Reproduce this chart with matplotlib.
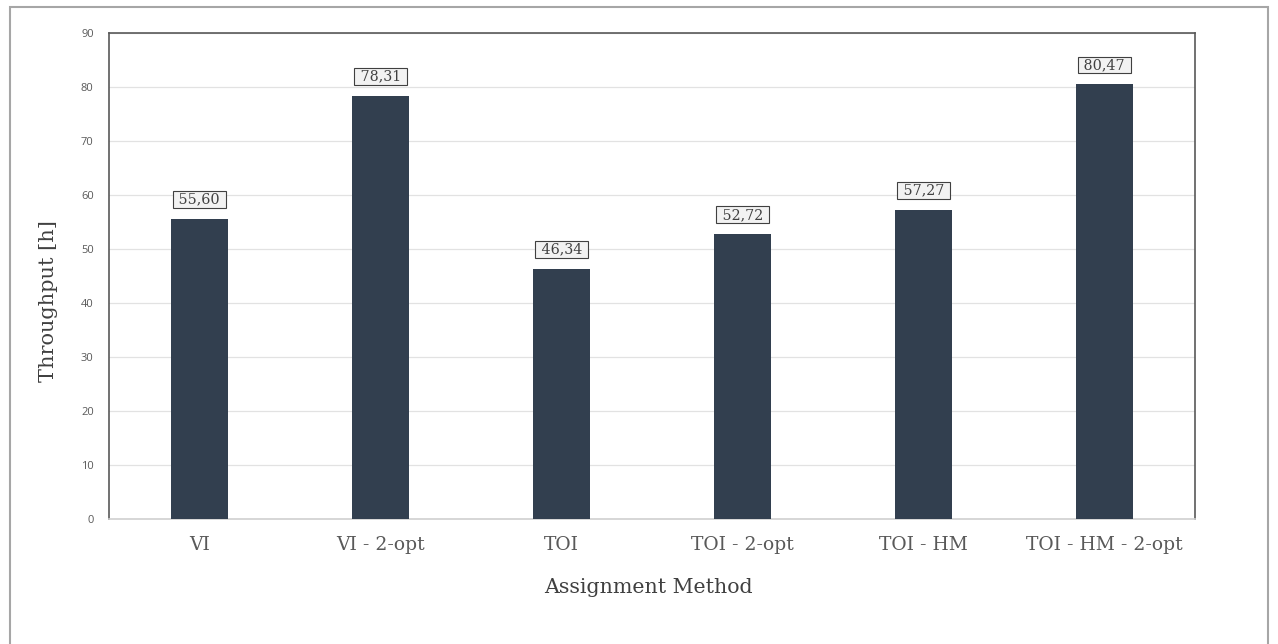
import matplotlib.pyplot as plt
from matplotlib.patches import Rectangle

methods = ["VI", "VI - 2-opt", "TOI", "TOI - 2-opt", "TOI - HM", "TOI - HM - 2-opt"]
throughput = [55.60, 78.31, 46.34, 52.72, 57.27, 80.47]
yticks = [0, 10, 20, 30, 40, 50, 60, 70, 80, 90]

bar_color = "#323f4f"
text_color = "#595959"
serif = ["DejaVu Serif"]

fig = plt.figure(figsize=(12.78, 6.44), dpi=100)
# frame around the whole chart, open at the bottom edge
fig.patches.append(Rectangle((10 / 1278, -0.1), 1258 / 1278, 1.1 - 7 / 644,
                             transform=fig.transFigure, fill=False,
                             edgecolor="#a6a6a6", linewidth=1.5))

ax = fig.add_axes([109 / 1278, 125 / 644, 1086 / 1278, 486 / 644])
x = list(range(len(methods)))
bars = ax.bar(x, throughput, width=0.315, color=bar_color, zorder=3)

ax.set_xlim(-0.5, len(methods) - 0.5)
ax.set_ylim(0, 90)
ax.set_yticks(yticks)
ax.set_yticklabels([str(v) for v in yticks], fontsize=8, color=text_color,
                   family="Open Sans")
ax.set_xticks(x)
ax.set_xticklabels(methods, fontsize=13.5, color=text_color, family=serif)
ax.tick_params(axis="both", length=0)
ax.tick_params(axis="x", pad=12)
ax.tick_params(axis="y", pad=11)
ax.grid(axis="y", color="#e2e2e2", linewidth=0.9, zorder=0)

for side in ["left", "top", "right"]:
    ax.spines[side].set_color("#595959")
    ax.spines[side].set_linewidth(1.2)
ax.spines["bottom"].set_color("#d0d0d0")
ax.spines["bottom"].set_linewidth(1.2)

ax.set_ylabel("Throughput [h]", fontsize=15, color="#404040", family=serif)
ax.yaxis.set_label_coords(-51 / 1086, 0.449)
ax.set_xlabel("Assignment Method", fontsize=14.8, color="#404040", family=serif)
ax.xaxis.set_label_coords(0.4965, -59 / 486)

for b, v in zip(bars, throughput):
    ax.annotate(" " + f"{v:.2f}".replace(".", ",") + " ",
                xy=(b.get_x() + b.get_width() / 2, v),
                xytext=(0, 14), textcoords="offset points",
                ha="center", va="center", fontsize=10.3, color="#404040",
                family=serif,
                bbox=dict(boxstyle="square,pad=0.1", facecolor="#f2f2f2",
                          edgecolor="#404040", linewidth=0.8))

fig.savefig("out.png", dpi=100)
